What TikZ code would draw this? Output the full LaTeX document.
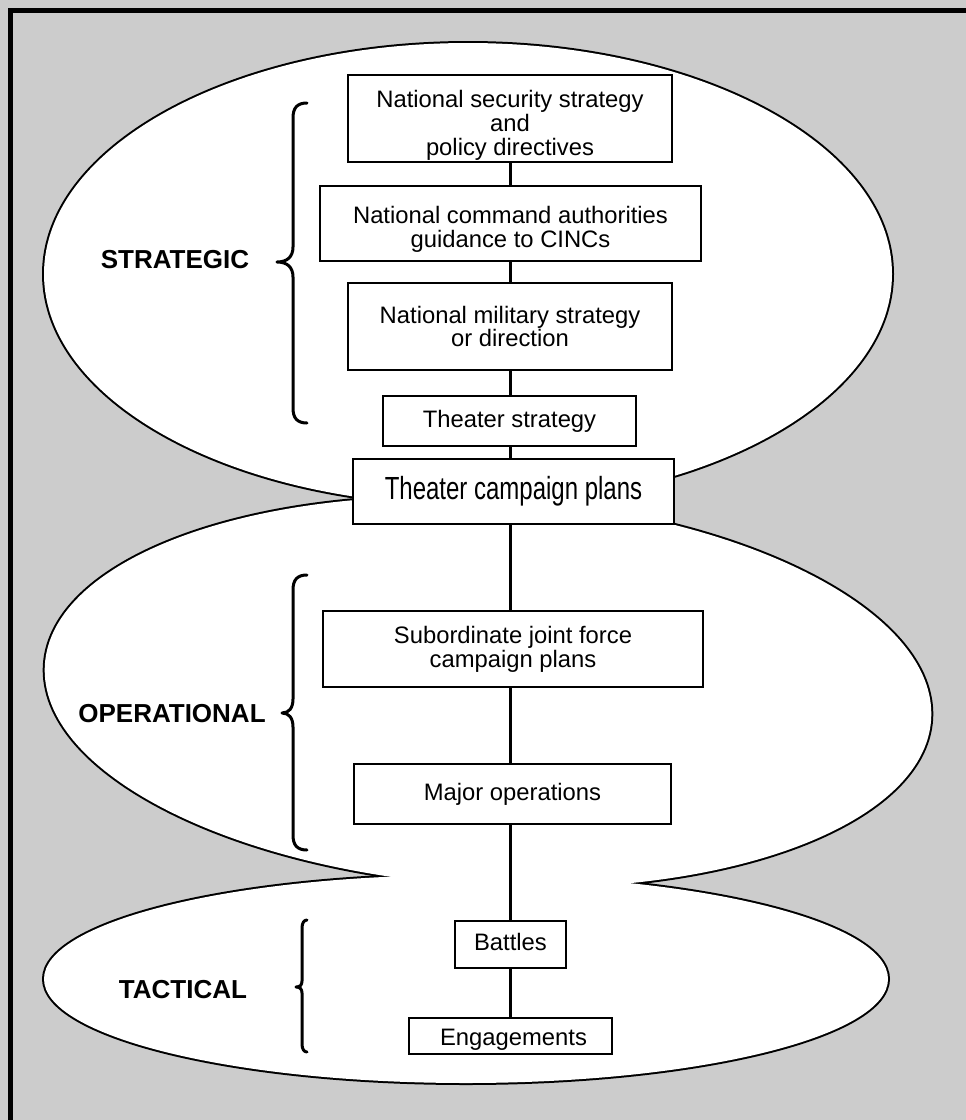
\documentclass[tikz,border=0pt]{standalone}
\usepackage{fontspec}
\setmainfont{Liberation Sans}
\newfontfamily\narrowfont[FakeStretch=0.75]{Liberation Sans}
\definecolor{bggray}{HTML}{CCCCCC}
\newcommand{\lowstrut}[1]{\rule{0pt}{#1}}
\begin{document}
\begin{tikzpicture}[x=1pt,y=-1pt,
  box/.style={draw=black, line width=2pt, fill=white, inner sep=0pt, align=center,
    font=\fontsize{23.8}{23.8}\selectfont},
  lab/.style={font=\bfseries\fontsize{26}{26}\selectfont, inner sep=0pt},
  conn/.style={line width=3pt},
  bracestyle/.style={line width=3pt, line cap=round, line join=round},
  ellout/.style={draw=black, line width=4pt},
  ellin/.style={fill=white}]
\useasboundingbox (0,0) rectangle (966,1120);
\fill[bggray] (0,0) rectangle (966,1120);
\draw[line width=5.3pt] (980,10.7) -- (10.7,10.7) -- (10.7,1130);
% levels (union of ellipses)
\path[ellout] (468,274) ellipse [x radius=424, y radius=231];
\path[ellout, rotate around={-3.5:(488,692)}] (488,692) ellipse [x radius=444, y radius=194];
\path[ellout] (466,979) ellipse [x radius=422, y radius=104];
\path[ellin] (468,274) ellipse [x radius=424, y radius=231];
\path[ellin, rotate around={-3.5:(488,692)}] (488,692) ellipse [x radius=444, y radius=194];
\path[ellin] (466,979) ellipse [x radius=422, y radius=104];
% boxes
\node[box, minimum width=324, minimum height=87] (b1) at (510,118.5) {\lowstrut{31.3pt}National security strategy\\and\\policy directives};
\node[box, minimum width=381, minimum height=75] (b2) at (510.5,223.5) {\lowstrut{29.3pt}National command authorities\\guidance to CINCs};
\node[box, minimum width=324, minimum height=87] (b3) at (510,326.5) {National military strategy\\or direction};
\node[box, minimum width=253, minimum height=50] (b4) at (509.5,421) {Theater strategy};
\node[box, minimum width=321, minimum height=65, font=\narrowfont\fontsize{32}{32}\selectfont] (b5) at (513.5,491.5) {Theater campaign plans};
\node[box, minimum width=380, minimum height=76] (b6) at (513,649) {Subordinate joint force\\campaign plans};
\node[box, minimum width=317, minimum height=60] (b7) at (512.5,794) {Major operations};
\node[box, minimum width=111, minimum height=47] (b8) at (510.5,944.5) {Battles\rule[-6pt]{0pt}{0pt}};
\node[box, minimum width=203, minimum height=36] (b9) at (510.5,1036) {\hspace*{6pt}\lowstrut{23pt}Engagements};
% connectors
\coordinate (lx) at (510,0);
\draw[conn] (b1.south -| lx) -- (b2.north -| lx);
\draw[conn] (b2.south -| lx) -- (b3.north -| lx);
\draw[conn] (b3.south -| lx) -- (b4.north -| lx);
\draw[conn] (b4.south -| lx) -- (b5.north -| lx);
\draw[conn] (b5.south -| lx) -- (b6.north -| lx);
\draw[conn] (b6.south -| lx) -- (b7.north -| lx);
\draw[conn] (b7.south -| lx) -- (b8.north -| lx);
\draw[conn] (b8.south -| lx) -- (b9.north -| lx);
% braces
\draw[bracestyle] (307,103) .. controls (297,103) and (293,108) .. (293,118) -- (293,247)
  .. controls (293,257) and (287,262) .. (277,262) .. controls (287,262) and (293,267) .. (293,277)
  -- (293,408) .. controls (293,418) and (297,423) .. (307,423);
\draw[bracestyle] (307,575) .. controls (297,575) and (293,580) .. (293,590) -- (293,699)
  .. controls (293,708) and (289,713) .. (282,713) .. controls (289,713) and (293,718) .. (293,727)
  -- (293,835) .. controls (293,845) and (297,850) .. (307,850);
\draw[bracestyle] (307,920) .. controls (304,920) and (302,923) .. (302,928) -- (302,981)
  .. controls (302,985) and (300,987) .. (296,987) .. controls (300,987) and (302,989) .. (302,993)
  -- (302,1044) .. controls (302,1049) and (304,1052) .. (307,1052);
% labels
\node[lab] (strat) at (175,260) {STRATEGIC};
\node[lab] (oper) at (172,714) {OPERATIONAL};
\node[lab] (tact) at (183,990) {TACTICAL};
\end{tikzpicture}
\end{document}
